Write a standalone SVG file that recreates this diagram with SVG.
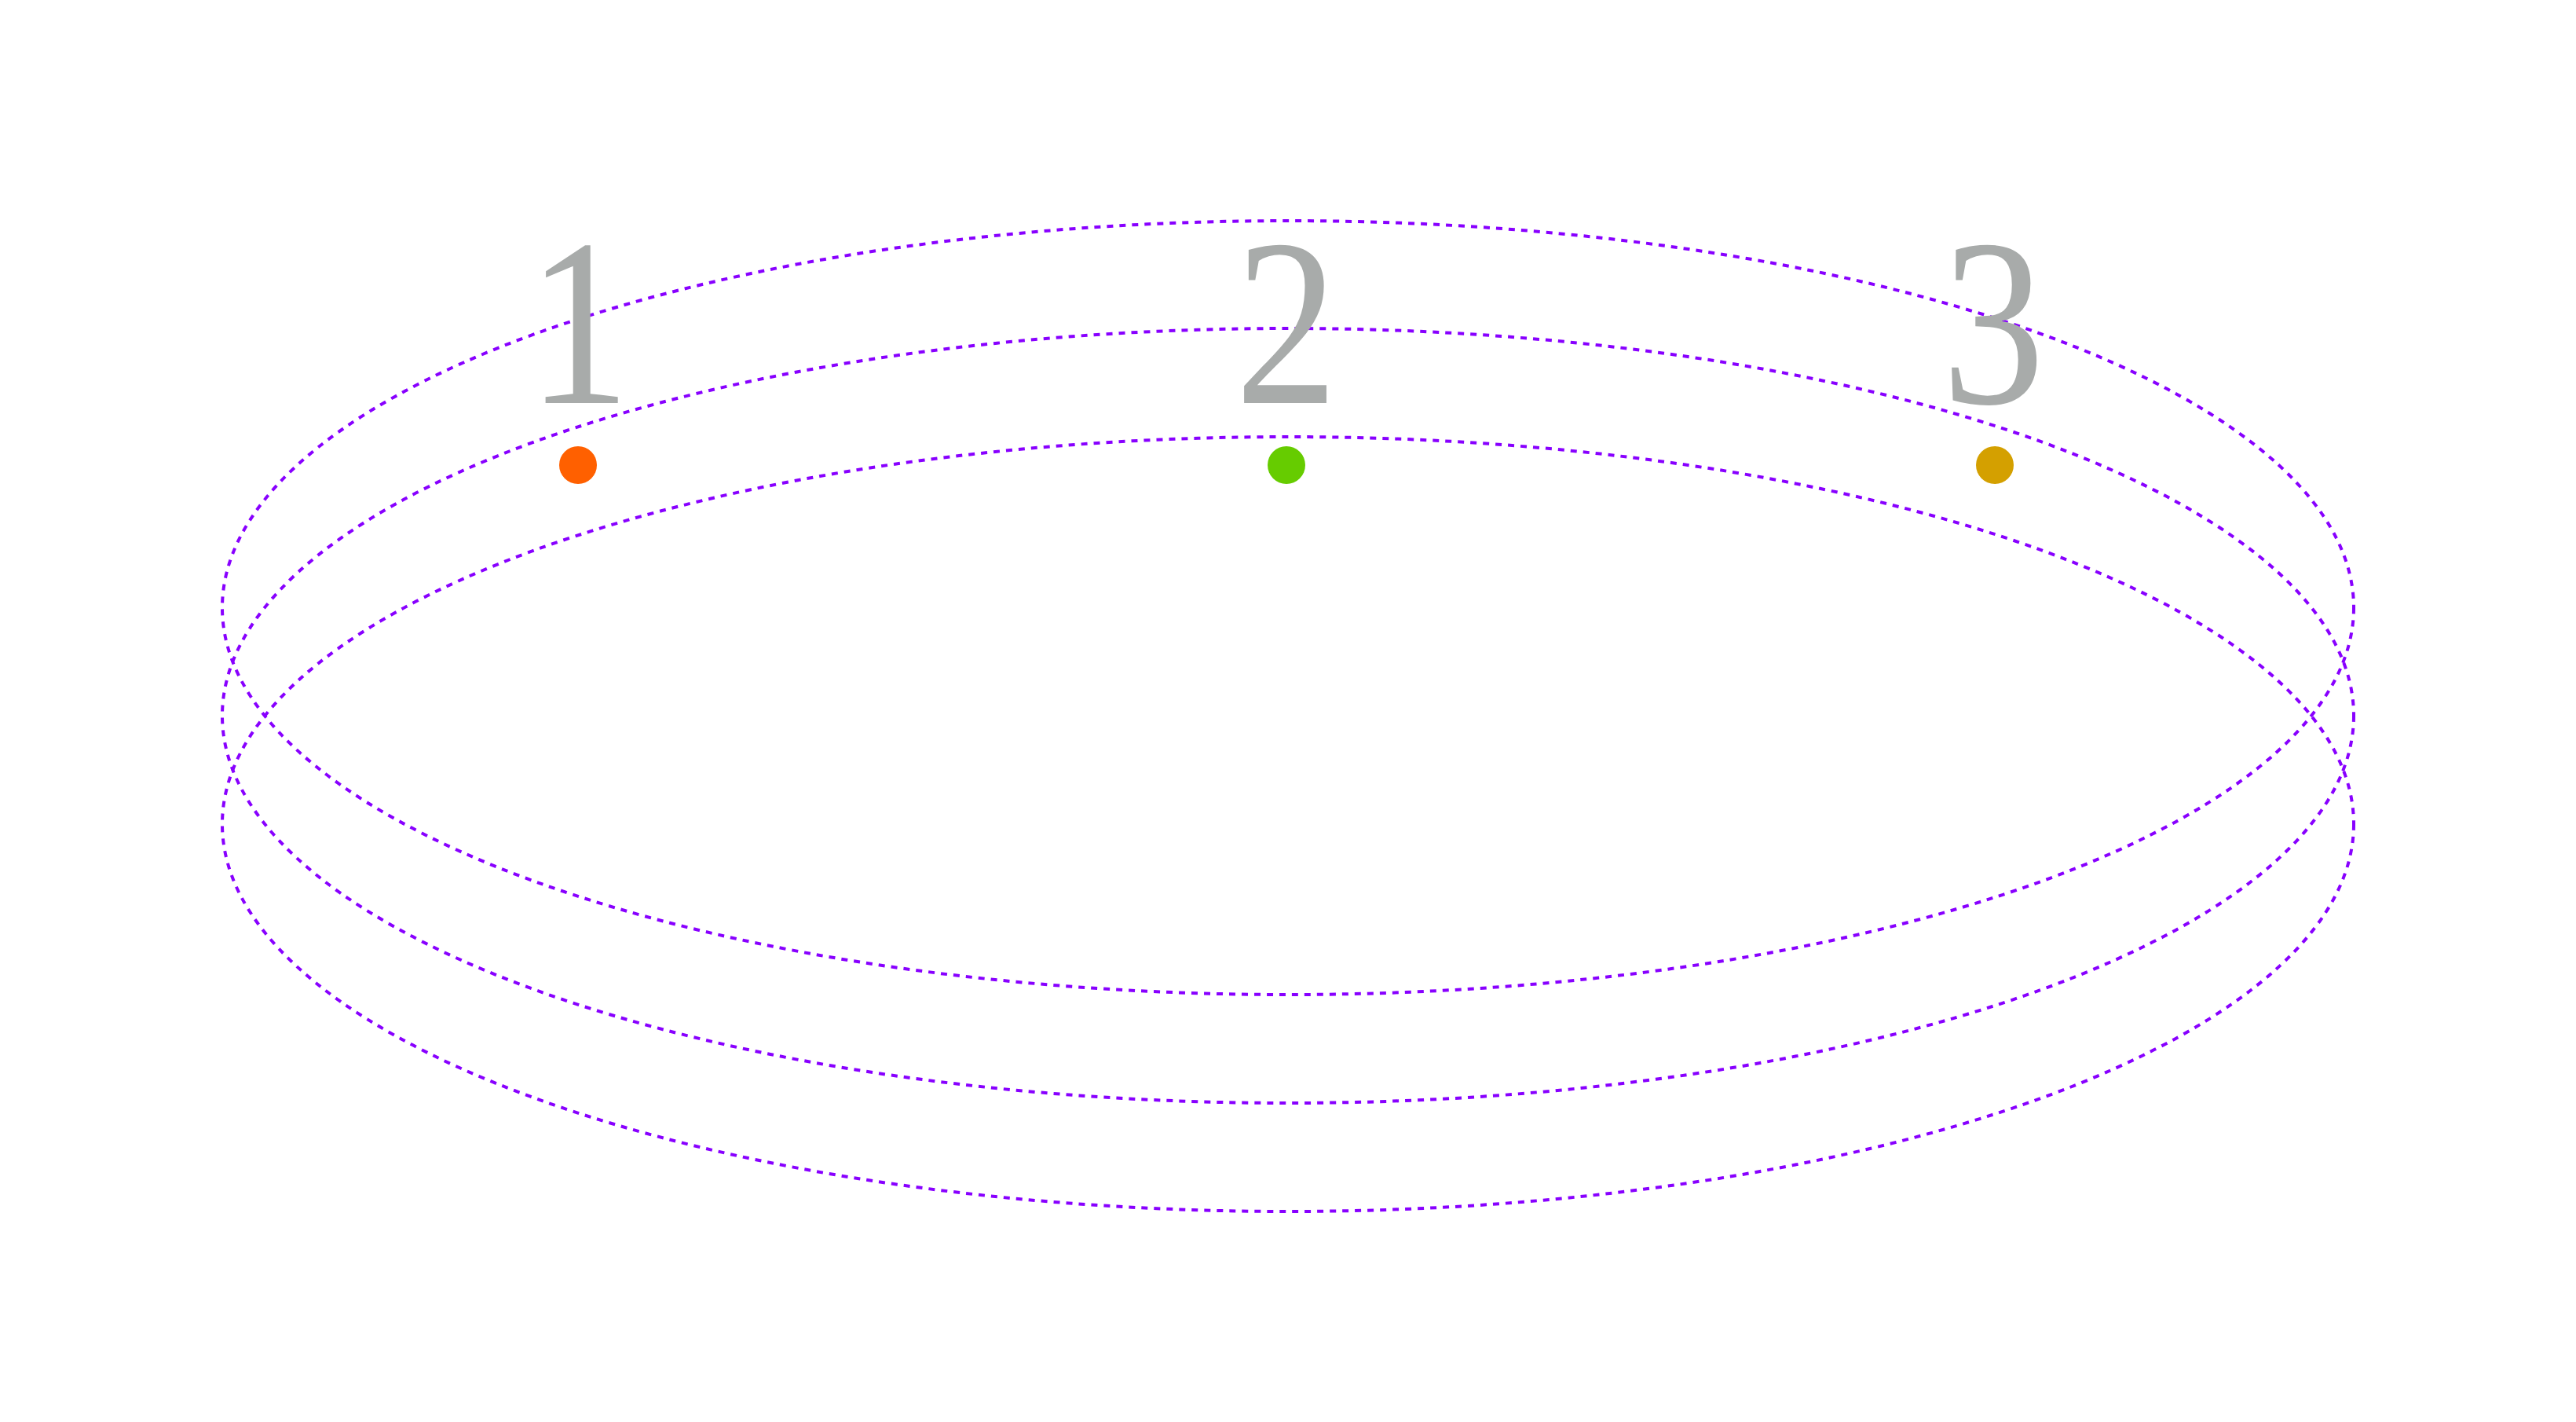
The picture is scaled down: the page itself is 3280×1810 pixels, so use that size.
<svg xmlns="http://www.w3.org/2000/svg" width="3280" height="1810" viewBox="0 0 3280 1810">
<style>
.ring{fill:none;stroke:#8800ff;stroke-width:4;stroke-dasharray:8 8}
.num{font-family:"Liberation Serif","Times New Roman",serif;font-size:304px;fill:#a8abaa;text-anchor:middle}
</style>
<rect width="3280" height="1810" fill="#ffffff"/>
<g id="rings">
<ellipse class="ring" cx="1640" cy="773.5" rx="1357" ry="492.5"/>
<ellipse class="ring" cx="1640" cy="911" rx="1357" ry="493"/>
<ellipse class="ring" cx="1640" cy="1049" rx="1357" ry="493"/>
</g>
<g id="node1">
<text class="num" font-family="Liberation Serif, serif" transform="translate(737 513) scale(0.86 1)" x="0" y="0">1</text>
<circle cx="736" cy="592" r="24" fill="#ff6000"/>
</g>
<g id="node2">
<text class="num" font-family="Liberation Serif, serif" transform="translate(1638 513) scale(0.86 1)" x="0" y="0">2</text>
<circle cx="1638" cy="592" r="24" fill="#66cc00"/>
</g>
<g id="node3">
<text class="num" font-family="Liberation Serif, serif" transform="translate(2538 513) scale(0.86 1)" x="0" y="0">3</text>
<circle cx="2540" cy="592" r="24" fill="#d4a000"/>
</g>
</svg>
